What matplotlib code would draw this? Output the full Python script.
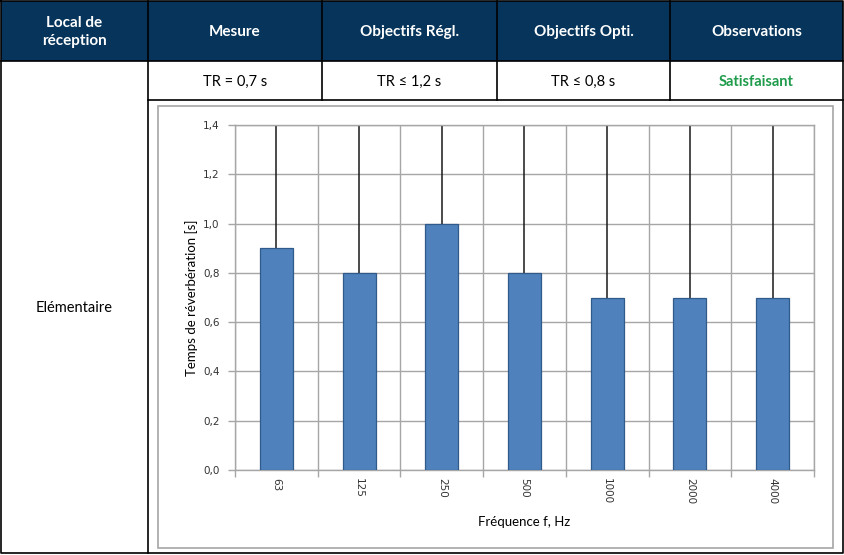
import numpy as np
import matplotlib
matplotlib.use("Agg")
import matplotlib.pyplot as plt
from matplotlib.patches import Rectangle

# Table content
headers = ["Local de\nréception", "Mesure", "Objectifs Régl.", "Objectifs Opti.", "Observations"]
row_values = ["TR = 0,7 s", "TR ≤ 1,2 s", "TR ≤ 0,8 s", "Satisfaisant"]
room_name = "Elémentaire"

# Chart data
frequencies = ["63", "125", "250", "500", "1000", "2000", "4000"]
reverb_times = [0.9, 0.8, 1.0, 0.8, 0.7, 0.7, 0.7]
upper_lines = [1.4, 1.4, 1.4, 1.4, 1.4, 1.4, 1.4]
y_ticks = [0.0, 0.2, 0.4, 0.6, 0.8, 1.0, 1.2, 1.4]

W, H = 845, 555
NAVY = "#06345A"
GREEN = "#1E9B4B"
GRID = "#A6A6A6"

fig = plt.figure(figsize=(W / 100, H / 100), dpi=100)
fig.patch.set_facecolor("white")

# Overlay axes in pixel coordinates for the table
tab = fig.add_axes([0, 0, 1, 1])
tab.set_xlim(0, W)
tab.set_ylim(H, 0)
tab.axis("off")

col_x = [1, 148, 322, 497, 670, 843]
y_top, y_head, y_row, y_bot = 1, 61, 100, 553

tab.add_patch(Rectangle((col_x[0], y_top), col_x[-1] - col_x[0], y_head - y_top,
                        facecolor=NAVY, edgecolor="none"))
lw = 1.2
# outer border
tab.plot([col_x[0], col_x[-1], col_x[-1], col_x[0], col_x[0]],
         [y_top, y_top, y_bot, y_bot, y_top], color="black", lw=lw)
tab.plot([col_x[0], col_x[-1]], [y_head, y_head], color="black", lw=lw)
tab.plot([col_x[1], col_x[-1]], [y_row, y_row], color="black", lw=lw)
tab.plot([col_x[1], col_x[1]], [y_top, y_bot], color="black", lw=lw)
for x in col_x[2:-1]:
    tab.plot([x, x], [y_top, y_row], color="black", lw=lw)

font_tab = ["Lato", "DejaVu Sans"]
for i, h in enumerate(headers):
    tab.text((col_x[i] + col_x[i + 1]) / 2, 32, h, color="white",
             fontsize=11, fontweight="bold", ha="center", va="center",
             family=font_tab, linespacing=1.45)
for i, v in enumerate(row_values):
    is_obs = i == len(row_values) - 1
    tab.text((col_x[i + 1] + col_x[i + 2]) / 2, 82, v,
             color=GREEN if is_obs else "black", fontsize=10.5,
             fontweight="bold" if is_obs else "normal",
             ha="center", va="center", family=font_tab)
tab.text((col_x[0] + col_x[1]) / 2, 308, room_name, fontsize=10.5,
         ha="center", va="center", family=font_tab)

# chart frame
tab.add_patch(Rectangle((158, 106), 833 - 158, 548 - 106, facecolor="none",
                        edgecolor=GRID, lw=1.2))

# Chart axes
px_l, px_r, px_t, px_b = 235, 814, 125, 470
ax = fig.add_axes([px_l / W, (H - px_b) / H, (px_r - px_l) / W, (px_b - px_t) / H])
x = np.arange(len(frequencies))
ax.vlines(x, reverb_times, upper_lines, color="#1a1a1a", lw=1.1, zorder=2)
ax.bar(x, reverb_times, width=0.4, color="#4F81BD", edgecolor="#2F5A8A",
       lw=0.9, zorder=3)

ax.set_xlim(-0.5, len(frequencies) - 0.5)
ax.set_ylim(0, 1.4)
ax.set_yticks(y_ticks)
ax.set_yticklabels([f"{t:.1f}".replace(".", ",") for t in y_ticks],
                   fontsize=7.5, color="#333333")
ax.set_xticks(x)
ax.set_xticklabels(frequencies, rotation=-90, fontsize=7.5, color="#333333")
ax.set_xticks(np.arange(-0.5, len(frequencies)), minor=True)
ax.tick_params(axis="x", which="major", length=0, pad=6)
ax.tick_params(axis="x", which="minor", length=5, color=GRID, width=1)
ax.tick_params(axis="y", length=5, color=GRID, width=1, pad=6)

for yv in y_ticks:
    ax.axhline(yv, color=GRID, lw=1, zorder=1)
for xb in np.arange(-0.5, len(frequencies)):
    ax.axvline(xb, color=GRID, lw=1, zorder=1)
for s in ax.spines.values():
    s.set_color(GRID)
    s.set_linewidth(1)

ax.set_ylabel("Temps de réverbération [s]", fontsize=9.5, family=font_tab, labelpad=4)
ax.set_xlabel("Fréquence f, Hz", fontsize=9.5, family=font_tab, labelpad=8)

fig.savefig("out.png", dpi=100)
